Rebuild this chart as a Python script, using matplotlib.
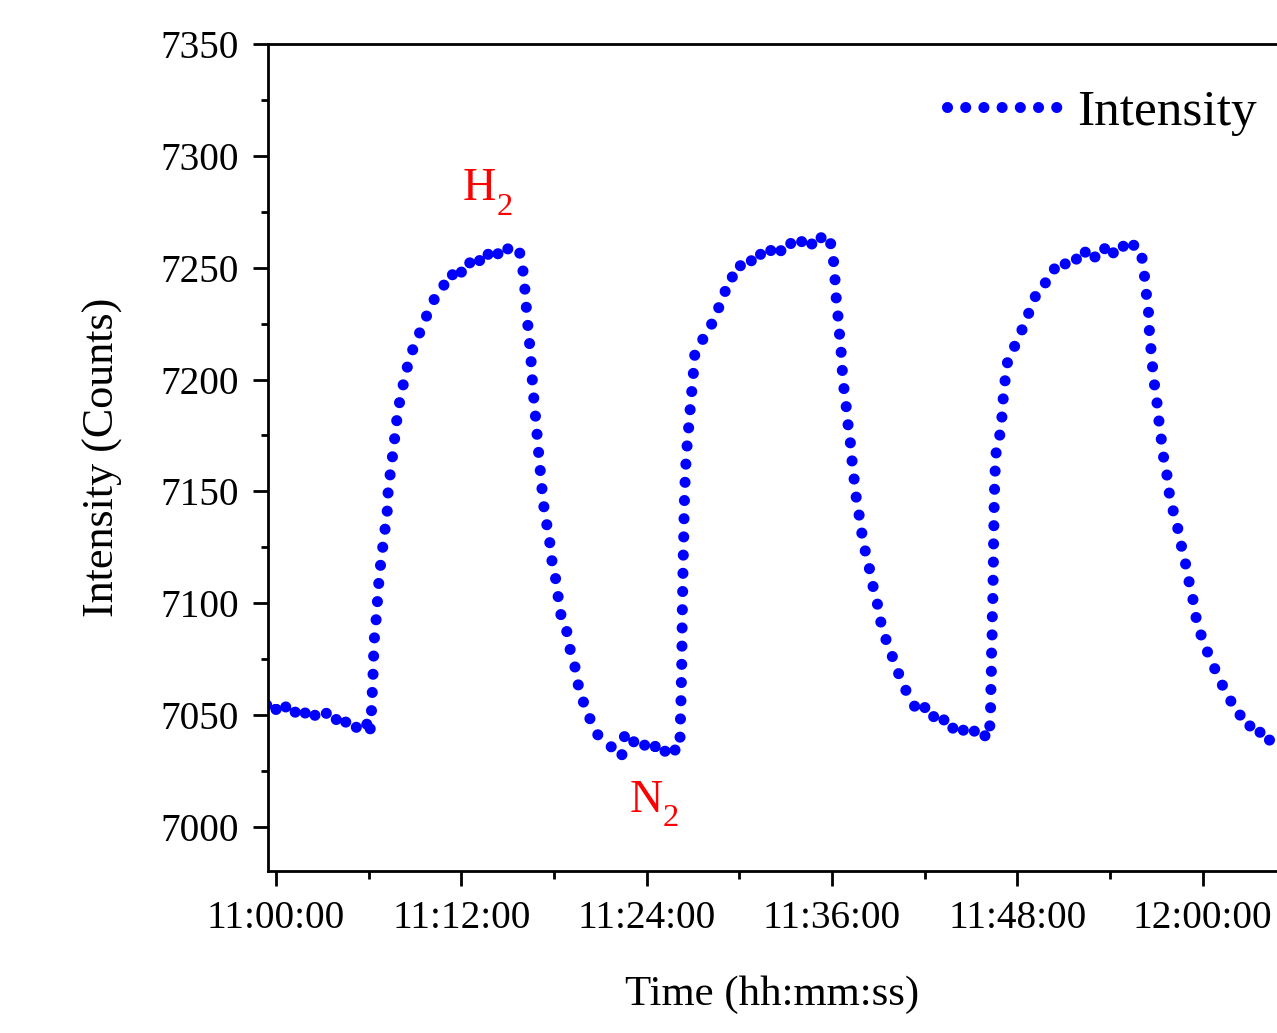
import numpy as np
import matplotlib
matplotlib.use('Agg')
import matplotlib.pyplot as plt
from matplotlib.ticker import MultipleLocator, FixedLocator

# ---------------- data (minutes after 11:00:00, intensity counts) -------------
t_base1 = [-0.6, -0.4, -0.2, 0.0, 0.2, 0.4, 0.6, 0.8, 1.0, 1.2, 1.4, 1.6, 1.8, 2.0,
           2.2, 2.4, 2.6, 2.8, 3.0, 3.2, 3.4, 3.6, 3.8, 4.0, 4.2, 4.4, 4.6, 4.8,
           5.0, 5.2, 5.4, 5.6, 5.8, 6.0, 6.07]
v_base1 = [7054.5, 7052.5, 7055, 7052.5, 7054.5, 7052, 7054, 7051.5, 7053.5, 7051,
           7052.5, 7050, 7052, 7049.5, 7051.5, 7049, 7050.5, 7048.5, 7050, 7051.5,
           7049, 7047.5, 7049.5, 7046.5, 7048.5, 7046, 7047.5, 7045.5, 7047, 7044.5,
           7046.5, 7044.5, 7046.5, 7045, 7041]

t_rise1 = [6.18, 6.28, 6.35, 6.46, 6.54, 6.61, 6.78, 6.98, 7.19, 7.25, 7.36, 7.51,
           7.64, 7.73, 7.84, 7.97, 8.12, 8.29, 8.59, 8.98, 9.37, 9.84, 10.39]
v_rise1 = [7052, 7068, 7083, 7091, 7098, 7106, 7118, 7129, 7140, 7149, 7156, 7164,
           7171, 7177, 7183, 7189, 7193, 7200, 7208, 7216, 7222, 7230, 7238]

t_top1 = [10.6, 10.8, 11.0, 11.2, 11.4, 11.6, 11.8, 12.0, 12.2, 12.4, 12.6, 12.8,
          13.0, 13.2, 13.4, 13.6, 13.8, 14.0, 14.2, 14.4, 14.6, 14.8, 15.0, 15.2,
          15.4, 15.6, 15.78, 15.89]
v_top1 = [7240.5, 7241, 7244.5, 7243.5, 7247, 7245.5, 7249.5, 7248, 7251.5, 7250,
          7253, 7252, 7255, 7253, 7256, 7254, 7257, 7255, 7257.5, 7256, 7258.5,
          7256.5, 7258.5, 7256.5, 7258, 7256, 7256.5, 7254]

t_fall1 = [15.96, 16.04, 16.13, 16.22, 16.32, 16.43, 16.54, 16.61, 16.71, 16.82,
           16.93, 17.03, 17.14, 17.25, 17.36, 17.51, 17.66, 17.77, 17.88, 18.10,
           18.20, 18.33, 18.48, 18.65, 18.81, 18.95, 19.09, 19.28, 19.49, 19.67,
           19.85, 19.99, 20.21, 20.4, 20.53, 20.7, 20.85, 21.1, 21.4, 21.65, 21.94,
           22.15, 22.37]
v_fall1 = [7250, 7246, 7239, 7231, 7223, 7215, 7206, 7198, 7190, 7182, 7173, 7165,
           7157, 7149, 7142, 7136, 7130, 7125, 7118, 7111, 7105, 7101, 7093, 7091,
           7088, 7082, 7078, 7074, 7067, 7059, 7057, 7054, 7049, 7048, 7045, 7043,
           7041, 7040, 7038, 7036, 7035, 7033, 7031]

t_base2 = [22.58, 22.75, 22.95, 23.15, 23.35, 23.55, 23.75, 23.95, 24.15, 24.35,
           24.55, 24.75, 24.95, 25.15, 25.35, 25.55, 25.75, 25.95, 26.15]
v_base2 = [7041.5, 7039.5, 7040.5, 7038, 7039, 7036.5, 7038, 7035.5, 7037, 7034.5,
           7036, 7033.5, 7035.5, 7033.5, 7035.5, 7033, 7035, 7033.5, 7036.5]

t_rise2 = [26.17, 26.21, 26.23, 26.26, 26.28, 26.30, 26.32, 26.34, 26.36, 26.39,
           26.41, 26.43, 26.47, 26.52, 26.58, 26.68, 26.75, 26.86, 26.97, 27.05, 27.12]
v_rise2 = [7045, 7053, 7061, 7069, 7078, 7094, 7102, 7110, 7119, 7127, 7135, 7143,
           7152, 7160, 7168, 7175, 7182, 7190, 7199, 7205, 7212]

t_top2 = [27.3, 27.5, 27.7, 27.9, 28.1, 28.3, 28.5, 28.7, 28.9, 29.1, 29.3, 29.5,
          29.7, 29.9, 30.1, 30.3, 30.5, 30.7, 30.9, 31.1, 31.3, 31.5, 31.7, 31.9,
          32.1, 32.3, 32.5, 32.7, 32.9, 33.1, 33.3, 33.5, 33.7, 33.9, 34.1, 34.3,
          34.5, 34.7, 34.9, 35.1, 35.3, 35.5, 35.7, 35.85, 35.97]
v_top2 = [7214.5, 7216, 7219, 7220, 7224, 7225.5, 7230.5, 7232.5, 7238.5, 7239.5,
          7245, 7245, 7249, 7248, 7251.5, 7250.5, 7253, 7252, 7255, 7253.5, 7256.5,
          7255, 7257.5, 7256, 7258.5, 7257, 7259.5, 7257.5, 7260, 7258.5, 7261,
          7259.5, 7261.5, 7260, 7262.5, 7260.5, 7262.5, 7260.5, 7263, 7261, 7263.5,
          7261.5, 7263.5, 7262, 7259.5]

t_fall2 = [36.08, 36.12, 36.19, 36.25, 36.33, 36.42, 36.51, 36.62, 36.68, 36.77,
           36.90, 37.05, 37.20, 37.29, 37.42, 37.55, 37.81, 38.02, 38.34, 38.50,
           38.67, 38.93, 39.10, 39.31, 39.57, 39.86, 40.18, 40.50, 40.93, 41.2, 41.48]
v_fall2 = [7255, 7250, 7245, 7238, 7232, 7226, 7218, 7210, 7202, 7196, 7189, 7179,
           7171, 7164, 7156, 7148, 7137, 7127, 7118, 7113, 7107, 7100, 7093, 7088,
           7082, 7077, 7071, 7065, 7059, 7055, 7053]

t_base3 = [41.6, 41.8, 42.0, 42.2, 42.4, 42.6, 42.8, 43.0, 43.2, 43.4, 43.6, 43.8,
           44.0, 44.2, 44.4, 44.6, 44.8, 45.0, 45.2, 45.4, 45.6, 45.8, 46.0, 46.18]
v_base3 = [7054.5, 7052, 7053.5, 7050.5, 7052, 7049, 7050.5, 7047.5, 7048.5, 7045.5,
           7047, 7044, 7045.5, 7043, 7044.5, 7042, 7043.5, 7041.5, 7043, 7040.5,
           7042, 7040, 7041.5, 7040]

t_rise3 = [46.22, 46.27, 46.29, 46.32, 46.33, 46.37, 46.38, 46.42, 46.43, 46.45,
           46.46, 46.48, 46.50, 46.53, 46.57, 46.63, 46.83, 46.98, 47.02, 47.13,
           47.26, 47.41]
v_rise3 = [7046, 7054, 7063, 7071, 7079, 7087, 7096, 7104, 7112, 7120, 7128, 7136,
           7145, 7153, 7161, 7168, 7174, 7180, 7187, 7195, 7203, 7210]

t_top3 = [47.6, 47.8, 48.0, 48.2, 48.4, 48.6, 48.8, 49.0, 49.2, 49.4, 49.6, 49.8,
          50.0, 50.2, 50.4, 50.6, 50.8, 51.0, 51.2, 51.4, 51.6, 51.8, 52.0, 52.2,
          52.4, 52.6, 52.8, 53.0, 53.2, 53.4, 53.6, 53.8, 54.0, 54.2, 54.4, 54.6,
          54.8, 55.0, 55.2, 55.4, 55.6, 55.8, 55.95, 56.05]
v_top3 = [7212, 7214.5, 7218, 7220, 7224.5, 7226, 7231.5, 7233.5, 7238, 7239,
          7242.5, 7243, 7246.5, 7246.5, 7249.5, 7248.5, 7251.5, 7250.5, 7253, 7252,
          7254.5, 7253.5, 7256.5, 7254.5, 7257, 7255, 7257, 7254.5, 7257, 7256,
          7259, 7257, 7259.5, 7256.5, 7259, 7257.5, 7260, 7258.5, 7261, 7259,
          7260.5, 7258.5, 7258, 7256]

t_fall3 = [56.11, 56.26, 56.37, 56.48, 56.50, 56.59, 56.70, 56.76, 56.87, 57.02,
           57.12, 57.23, 57.36, 57.49, 57.67, 57.80, 57.88, 58.10, 58.32, 58.53,
           58.70, 59.00, 59.13, 59.39, 59.61, 59.93, 60.26, 60.69, 61.11, 61.55,
           61.75, 61.95, 62.15, 62.35, 62.55, 62.75, 62.95, 63.15, 63.35, 63.55,
           63.75, 63.95, 64.15, 64.35, 64.55, 64.75, 64.95, 65.2]
v_fall3 = [7251, 7245, 7237, 7234, 7226, 7218, 7210, 7205, 7198, 7191, 7184, 7178,
           7171, 7164, 7158, 7151, 7147, 7141, 7135, 7130, 7122, 7115, 7109, 7101,
           7092, 7085, 7079, 7072, 7066, 7059, 7057.5, 7054, 7053.5, 7050, 7050,
           7046.5, 7047, 7043.5, 7044.5, 7041.5, 7042.5, 7039.5, 7041, 7038.5,
           7040, 7037.5, 7039, 7037]

x_ticks = [0, 12, 24, 36, 48, 60]
x_tick_labels = ['11:00:00', '11:12:00', '11:24:00', '11:36:00', '11:48:00', '12:00:00']
y_ticks = [7000, 7050, 7100, 7150, 7200, 7250, 7300, 7350]

series_name = 'Intensity'
gas_labels = ['H', 'N']

# ---------------- assemble ----------------
time = np.concatenate([t_base1, t_rise1, t_top1, t_fall1, t_base2, t_rise2, t_top2,
                       t_fall2, t_base3, t_rise3, t_top3, t_fall3])
inten = np.concatenate([v_base1, v_rise1, v_top1, v_fall1, v_base2, v_rise2, v_top2,
                        v_fall2, v_base3, v_rise3, v_top3, v_fall3])

plt.rcParams['font.family'] = ['Liberation Serif', 'DejaVu Serif']
plt.rcParams['path.simplify'] = False

W, H = 1277, 1033
fig = plt.figure(figsize=(W / 100, H / 100), dpi=100)
ax = fig.add_axes([268 / W, (H - 871) / H, 1 - 268 / W, (871 - 44) / H])

lw = 8.0
ax.plot(time, inten, color='#0000FF', lw=lw, linestyle=(0, (0.001, 13.1 / lw)),
        dash_capstyle='round', solid_capstyle='round', label=series_name)

ax.set_xlim(-0.52, 64.81)
ax.set_ylim(6980.3, 7350)

ax.xaxis.set_major_locator(FixedLocator(x_ticks))
ax.set_xticklabels(x_tick_labels)
ax.xaxis.set_minor_locator(MultipleLocator(6))
ax.yaxis.set_major_locator(FixedLocator(y_ticks))
ax.yaxis.set_minor_locator(MultipleLocator(25))

for side in ['left', 'bottom', 'top']:
    ax.spines[side].set_linewidth(2.0)
ax.spines['right'].set_visible(False)

ax.tick_params(which='major', direction='out', length=10.8, width=2.0,
               labelsize=28.3, pad=10, top=False, right=False)
ax.tick_params(which='minor', direction='out', length=5.4, width=2.0,
               top=False, right=False)

ax.set_xlabel('Time (hh:mm:ss)', fontsize=30.8, labelpad=28)
ax.set_ylabel('Intensity (Counts)', fontsize=31.8, labelpad=27)

# gas labels: main letter + subscript "2"
ax.text(12.07, 7280.3, gas_labels[0], color='red', fontsize=33, ha='left', va='baseline')
ax.text(14.27, 7273.6, '2', color='red', fontsize=23.4, ha='left', va='baseline')
ax.text(22.90, 7006.8, gas_labels[1], color='red', fontsize=33, ha='left', va='baseline')
ax.text(25.05, 7000.4, '2', color='red', fontsize=23.4, ha='left', va='baseline')

leg = ax.legend(frameon=False, fontsize=37, handlelength=2.14, handletextpad=0.39,
                loc='center left', bbox_to_anchor=(946.7 / W, 1 - 113 / H),
                bbox_transform=fig.transFigure, borderpad=0, borderaxespad=0)

fig.savefig('out.png', dpi=100)
